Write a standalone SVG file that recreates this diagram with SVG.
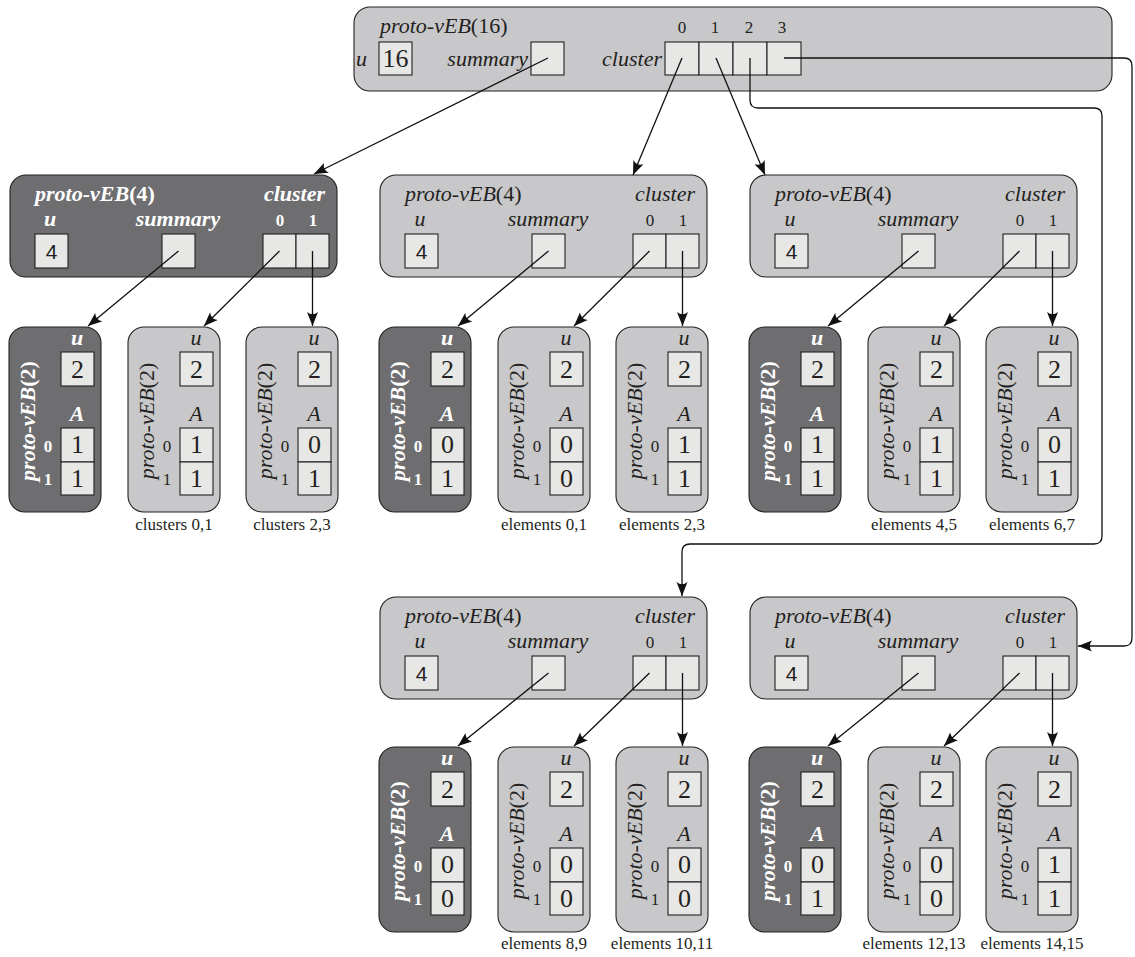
<svg xmlns="http://www.w3.org/2000/svg" width="1135" height="957" viewBox="0 0 1135 957" font-family="'Liberation Serif', 'Times New Roman', Times, 'DejaVu Serif', serif">
<defs>
<marker id="ah" markerUnits="userSpaceOnUse" markerWidth="16" markerHeight="12" refX="14" refY="6" orient="auto">
<path d="M0,0.5 L14,6 L0,11.5 Q4.5,6 0,0.5 Z" fill="#111"/>
</marker>
</defs>
<style>
text{font-family:'Liberation Serif','Times New Roman',Times,'DejaVu Serif',serif;fill:#231f20}
.nd{fill:#c8c8ca;stroke:#231f20;stroke-width:1.1}
.d .nd{fill:#6e6e71}
.bx{fill:#e7e7e6;stroke:#231f20;stroke-width:1.1}
.it{font-style:italic}
.tl,.lb,.tt{font-size:22px}
.lb,.ix,.v,.cap,.tt,.sv{text-anchor:middle}
.ix{font-size:17px}
.v{font-size:26px}
text.sv{font-family:'Liberation Sans',Arial,sans-serif;font-size:21px}
.cap{font-size:17px}
.d .tl,.d .lb,.d .ix,.d .tt{fill:#fff;font-weight:bold}
.cn{fill:none;stroke:#111;stroke-width:1.3;marker-end:url(#ah)}
</style>

<!-- top node -->
<g id="root">
<rect class="nd" x="354" y="7" width="758" height="84" rx="16"/>
<text class="tl" x="380" y="33"><tspan class="it">proto-vEB</tspan>(16)</text>
<text class="tl it" x="367" y="66" text-anchor="end">u</text>
<rect class="bx" x="379" y="42" width="33" height="33"/>
<text class="v" x="395.5" y="67">16</text>
<text class="tl it" x="528" y="66" text-anchor="end">summary</text>
<rect class="bx" x="531" y="42" width="33" height="33"/>
<text class="tl it" x="662" y="66" text-anchor="end">cluster</text>
<rect class="bx" x="665" y="42" width="34" height="33"/>
<rect class="bx" x="699" y="42" width="34" height="33"/>
<rect class="bx" x="733" y="42" width="34" height="33"/>
<rect class="bx" x="767" y="42" width="34" height="33"/>
<text class="ix" x="682" y="33">0</text>
<text class="ix" x="715" y="33">1</text>
<text class="ix" x="749" y="33">2</text>
<text class="ix" x="782" y="33">3</text>
</g>

<!-- proto-vEB(4) nodes -->
<g id="p4-summary" class="d" transform="translate(10,175)">
<rect class="nd" width="327" height="102" rx="16"/>
<text class="tl" x="25" y="26"><tspan class="it">proto-vEB</tspan>(4)</text>
<text class="tl it" x="315" y="26" text-anchor="end">cluster</text>
<text class="lb it" x="40" y="51">u</text>
<text class="lb it" x="168" y="51">summary</text>
<text class="ix" x="270" y="51">0</text>
<text class="ix" x="303" y="51">1</text>
<rect class="bx" x="25" y="59" width="33" height="34"/>
<text class="sv" x="41.5" y="84">4</text>
<rect class="bx" x="152" y="59" width="33" height="34"/>
<rect class="bx" x="253" y="59" width="33" height="34"/>
<rect class="bx" x="286" y="59" width="33" height="34"/>
</g>
<g id="p4-c0" transform="translate(380,175)">
<rect class="nd" width="327" height="102" rx="16"/>
<text class="tl" x="25" y="26"><tspan class="it">proto-vEB</tspan>(4)</text>
<text class="tl it" x="315" y="26" text-anchor="end">cluster</text>
<text class="lb it" x="40" y="51">u</text>
<text class="lb it" x="168" y="51">summary</text>
<text class="ix" x="270" y="51">0</text>
<text class="ix" x="303" y="51">1</text>
<rect class="bx" x="25" y="59" width="33" height="34"/>
<text class="sv" x="41.5" y="84">4</text>
<rect class="bx" x="152" y="59" width="33" height="34"/>
<rect class="bx" x="253" y="59" width="33" height="34"/>
<rect class="bx" x="286" y="59" width="33" height="34"/>
</g>
<g id="p4-c1" transform="translate(750,175)">
<rect class="nd" width="327" height="102" rx="16"/>
<text class="tl" x="25" y="26"><tspan class="it">proto-vEB</tspan>(4)</text>
<text class="tl it" x="315" y="26" text-anchor="end">cluster</text>
<text class="lb it" x="40" y="51">u</text>
<text class="lb it" x="168" y="51">summary</text>
<text class="ix" x="270" y="51">0</text>
<text class="ix" x="303" y="51">1</text>
<rect class="bx" x="25" y="59" width="33" height="34"/>
<text class="sv" x="41.5" y="84">4</text>
<rect class="bx" x="152" y="59" width="33" height="34"/>
<rect class="bx" x="253" y="59" width="33" height="34"/>
<rect class="bx" x="286" y="59" width="33" height="34"/>
</g>
<g id="p4-c2" transform="translate(380,597)">
<rect class="nd" width="327" height="102" rx="16"/>
<text class="tl" x="25" y="26"><tspan class="it">proto-vEB</tspan>(4)</text>
<text class="tl it" x="315" y="26" text-anchor="end">cluster</text>
<text class="lb it" x="40" y="51">u</text>
<text class="lb it" x="168" y="51">summary</text>
<text class="ix" x="270" y="51">0</text>
<text class="ix" x="303" y="51">1</text>
<rect class="bx" x="25" y="59" width="33" height="34"/>
<text class="sv" x="41.5" y="84">4</text>
<rect class="bx" x="152" y="59" width="33" height="34"/>
<rect class="bx" x="253" y="59" width="33" height="34"/>
<rect class="bx" x="286" y="59" width="33" height="34"/>
</g>
<g id="p4-c3" transform="translate(750,597)">
<rect class="nd" width="327" height="102" rx="16"/>
<text class="tl" x="25" y="26"><tspan class="it">proto-vEB</tspan>(4)</text>
<text class="tl it" x="315" y="26" text-anchor="end">cluster</text>
<text class="lb it" x="40" y="51">u</text>
<text class="lb it" x="168" y="51">summary</text>
<text class="ix" x="270" y="51">0</text>
<text class="ix" x="303" y="51">1</text>
<rect class="bx" x="25" y="59" width="33" height="34"/>
<text class="sv" x="41.5" y="84">4</text>
<rect class="bx" x="152" y="59" width="33" height="34"/>
<rect class="bx" x="253" y="59" width="33" height="34"/>
<rect class="bx" x="286" y="59" width="33" height="34"/>
</g>

<!-- proto-vEB(2) nodes, group A -->
<g id="a-s" class="d" transform="translate(9,327)">
<rect class="nd" width="92" height="185" rx="16"/>
<text class="tt" transform="translate(26,94) rotate(-90)"><tspan class="it">proto-vEB</tspan>(2)</text>
<text class="lb it" x="68" y="18">u</text>
<rect class="bx" x="52" y="25" width="33" height="34"/><text class="v" x="68.5" y="51">2</text>
<text class="lb it" x="68" y="94">A</text>
<rect class="bx" x="52" y="101" width="33" height="34"/><rect class="bx" x="52" y="135" width="33" height="33"/>
<text class="v" x="68.5" y="126">1</text><text class="v" x="68.5" y="160">1</text>
<text class="ix" x="39" y="125">0</text><text class="ix" x="39" y="158">1</text>
</g>
<g id="a-0" transform="translate(128,327)">
<rect class="nd" width="92" height="185" rx="16"/>
<text class="tt" transform="translate(26,94) rotate(-90)"><tspan class="it">proto-vEB</tspan>(2)</text>
<text class="lb it" x="68" y="18">u</text>
<rect class="bx" x="52" y="25" width="33" height="34"/><text class="v" x="68.5" y="51">2</text>
<text class="lb it" x="68" y="94">A</text>
<rect class="bx" x="52" y="101" width="33" height="34"/><rect class="bx" x="52" y="135" width="33" height="33"/>
<text class="v" x="68.5" y="126">1</text><text class="v" x="68.5" y="160">1</text>
<text class="ix" x="39" y="125">0</text><text class="ix" x="39" y="158">1</text>
<text class="cap" x="46" y="203">clusters 0,1</text>
</g>
<g id="a-1" transform="translate(246,327)">
<rect class="nd" width="92" height="185" rx="16"/>
<text class="tt" transform="translate(26,94) rotate(-90)"><tspan class="it">proto-vEB</tspan>(2)</text>
<text class="lb it" x="68" y="18">u</text>
<rect class="bx" x="52" y="25" width="33" height="34"/><text class="v" x="68.5" y="51">2</text>
<text class="lb it" x="68" y="94">A</text>
<rect class="bx" x="52" y="101" width="33" height="34"/><rect class="bx" x="52" y="135" width="33" height="33"/>
<text class="v" x="68.5" y="126">0</text><text class="v" x="68.5" y="160">1</text>
<text class="ix" x="39" y="125">0</text><text class="ix" x="39" y="158">1</text>
<text class="cap" x="46" y="203">clusters 2,3</text>
</g>

<!-- group B -->
<g id="b-s" class="d" transform="translate(379,327)">
<rect class="nd" width="92" height="185" rx="16"/>
<text class="tt" transform="translate(26,94) rotate(-90)"><tspan class="it">proto-vEB</tspan>(2)</text>
<text class="lb it" x="68" y="18">u</text>
<rect class="bx" x="52" y="25" width="33" height="34"/><text class="v" x="68.5" y="51">2</text>
<text class="lb it" x="68" y="94">A</text>
<rect class="bx" x="52" y="101" width="33" height="34"/><rect class="bx" x="52" y="135" width="33" height="33"/>
<text class="v" x="68.5" y="126">0</text><text class="v" x="68.5" y="160">1</text>
<text class="ix" x="39" y="125">0</text><text class="ix" x="39" y="158">1</text>
</g>
<g id="b-0" transform="translate(498,327)">
<rect class="nd" width="92" height="185" rx="16"/>
<text class="tt" transform="translate(26,94) rotate(-90)"><tspan class="it">proto-vEB</tspan>(2)</text>
<text class="lb it" x="68" y="18">u</text>
<rect class="bx" x="52" y="25" width="33" height="34"/><text class="v" x="68.5" y="51">2</text>
<text class="lb it" x="68" y="94">A</text>
<rect class="bx" x="52" y="101" width="33" height="34"/><rect class="bx" x="52" y="135" width="33" height="33"/>
<text class="v" x="68.5" y="126">0</text><text class="v" x="68.5" y="160">0</text>
<text class="ix" x="39" y="125">0</text><text class="ix" x="39" y="158">1</text>
<text class="cap" x="46" y="203">elements 0,1</text>
</g>
<g id="b-1" transform="translate(616,327)">
<rect class="nd" width="92" height="185" rx="16"/>
<text class="tt" transform="translate(26,94) rotate(-90)"><tspan class="it">proto-vEB</tspan>(2)</text>
<text class="lb it" x="68" y="18">u</text>
<rect class="bx" x="52" y="25" width="33" height="34"/><text class="v" x="68.5" y="51">2</text>
<text class="lb it" x="68" y="94">A</text>
<rect class="bx" x="52" y="101" width="33" height="34"/><rect class="bx" x="52" y="135" width="33" height="33"/>
<text class="v" x="68.5" y="126">1</text><text class="v" x="68.5" y="160">1</text>
<text class="ix" x="39" y="125">0</text><text class="ix" x="39" y="158">1</text>
<text class="cap" x="46" y="203">elements 2,3</text>
</g>

<!-- group C -->
<g id="c-s" class="d" transform="translate(749,327)">
<rect class="nd" width="92" height="185" rx="16"/>
<text class="tt" transform="translate(26,94) rotate(-90)"><tspan class="it">proto-vEB</tspan>(2)</text>
<text class="lb it" x="68" y="18">u</text>
<rect class="bx" x="52" y="25" width="33" height="34"/><text class="v" x="68.5" y="51">2</text>
<text class="lb it" x="68" y="94">A</text>
<rect class="bx" x="52" y="101" width="33" height="34"/><rect class="bx" x="52" y="135" width="33" height="33"/>
<text class="v" x="68.5" y="126">1</text><text class="v" x="68.5" y="160">1</text>
<text class="ix" x="39" y="125">0</text><text class="ix" x="39" y="158">1</text>
</g>
<g id="c-0" transform="translate(868,327)">
<rect class="nd" width="92" height="185" rx="16"/>
<text class="tt" transform="translate(26,94) rotate(-90)"><tspan class="it">proto-vEB</tspan>(2)</text>
<text class="lb it" x="68" y="18">u</text>
<rect class="bx" x="52" y="25" width="33" height="34"/><text class="v" x="68.5" y="51">2</text>
<text class="lb it" x="68" y="94">A</text>
<rect class="bx" x="52" y="101" width="33" height="34"/><rect class="bx" x="52" y="135" width="33" height="33"/>
<text class="v" x="68.5" y="126">1</text><text class="v" x="68.5" y="160">1</text>
<text class="ix" x="39" y="125">0</text><text class="ix" x="39" y="158">1</text>
<text class="cap" x="46" y="203">elements 4,5</text>
</g>
<g id="c-1" transform="translate(986,327)">
<rect class="nd" width="92" height="185" rx="16"/>
<text class="tt" transform="translate(26,94) rotate(-90)"><tspan class="it">proto-vEB</tspan>(2)</text>
<text class="lb it" x="68" y="18">u</text>
<rect class="bx" x="52" y="25" width="33" height="34"/><text class="v" x="68.5" y="51">2</text>
<text class="lb it" x="68" y="94">A</text>
<rect class="bx" x="52" y="101" width="33" height="34"/><rect class="bx" x="52" y="135" width="33" height="33"/>
<text class="v" x="68.5" y="126">0</text><text class="v" x="68.5" y="160">1</text>
<text class="ix" x="39" y="125">0</text><text class="ix" x="39" y="158">1</text>
<text class="cap" x="46" y="203">elements 6,7</text>
</g>

<!-- group D -->
<g id="d-s" class="d" transform="translate(379,747)">
<rect class="nd" width="92" height="185" rx="16"/>
<text class="tt" transform="translate(26,94) rotate(-90)"><tspan class="it">proto-vEB</tspan>(2)</text>
<text class="lb it" x="68" y="18">u</text>
<rect class="bx" x="52" y="25" width="33" height="34"/><text class="v" x="68.5" y="51">2</text>
<text class="lb it" x="68" y="94">A</text>
<rect class="bx" x="52" y="101" width="33" height="34"/><rect class="bx" x="52" y="135" width="33" height="33"/>
<text class="v" x="68.5" y="126">0</text><text class="v" x="68.5" y="160">0</text>
<text class="ix" x="39" y="125">0</text><text class="ix" x="39" y="158">1</text>
</g>
<g id="d-0" transform="translate(498,747)">
<rect class="nd" width="92" height="185" rx="16"/>
<text class="tt" transform="translate(26,94) rotate(-90)"><tspan class="it">proto-vEB</tspan>(2)</text>
<text class="lb it" x="68" y="18">u</text>
<rect class="bx" x="52" y="25" width="33" height="34"/><text class="v" x="68.5" y="51">2</text>
<text class="lb it" x="68" y="94">A</text>
<rect class="bx" x="52" y="101" width="33" height="34"/><rect class="bx" x="52" y="135" width="33" height="33"/>
<text class="v" x="68.5" y="126">0</text><text class="v" x="68.5" y="160">0</text>
<text class="ix" x="39" y="125">0</text><text class="ix" x="39" y="158">1</text>
<text class="cap" x="46" y="202">elements 8,9</text>
</g>
<g id="d-1" transform="translate(616,747)">
<rect class="nd" width="92" height="185" rx="16"/>
<text class="tt" transform="translate(26,94) rotate(-90)"><tspan class="it">proto-vEB</tspan>(2)</text>
<text class="lb it" x="68" y="18">u</text>
<rect class="bx" x="52" y="25" width="33" height="34"/><text class="v" x="68.5" y="51">2</text>
<text class="lb it" x="68" y="94">A</text>
<rect class="bx" x="52" y="101" width="33" height="34"/><rect class="bx" x="52" y="135" width="33" height="33"/>
<text class="v" x="68.5" y="126">0</text><text class="v" x="68.5" y="160">0</text>
<text class="ix" x="39" y="125">0</text><text class="ix" x="39" y="158">1</text>
<text class="cap" x="46" y="202">elements 10,11</text>
</g>

<!-- group E -->
<g id="e-s" class="d" transform="translate(749,747)">
<rect class="nd" width="92" height="185" rx="16"/>
<text class="tt" transform="translate(26,94) rotate(-90)"><tspan class="it">proto-vEB</tspan>(2)</text>
<text class="lb it" x="68" y="18">u</text>
<rect class="bx" x="52" y="25" width="33" height="34"/><text class="v" x="68.5" y="51">2</text>
<text class="lb it" x="68" y="94">A</text>
<rect class="bx" x="52" y="101" width="33" height="34"/><rect class="bx" x="52" y="135" width="33" height="33"/>
<text class="v" x="68.5" y="126">0</text><text class="v" x="68.5" y="160">1</text>
<text class="ix" x="39" y="125">0</text><text class="ix" x="39" y="158">1</text>
</g>
<g id="e-0" transform="translate(868,747)">
<rect class="nd" width="92" height="185" rx="16"/>
<text class="tt" transform="translate(26,94) rotate(-90)"><tspan class="it">proto-vEB</tspan>(2)</text>
<text class="lb it" x="68" y="18">u</text>
<rect class="bx" x="52" y="25" width="33" height="34"/><text class="v" x="68.5" y="51">2</text>
<text class="lb it" x="68" y="94">A</text>
<rect class="bx" x="52" y="101" width="33" height="34"/><rect class="bx" x="52" y="135" width="33" height="33"/>
<text class="v" x="68.5" y="126">0</text><text class="v" x="68.5" y="160">0</text>
<text class="ix" x="39" y="125">0</text><text class="ix" x="39" y="158">1</text>
<text class="cap" x="46" y="202">elements 12,13</text>
</g>
<g id="e-1" transform="translate(986,747)">
<rect class="nd" width="92" height="185" rx="16"/>
<text class="tt" transform="translate(26,94) rotate(-90)"><tspan class="it">proto-vEB</tspan>(2)</text>
<text class="lb it" x="68" y="18">u</text>
<rect class="bx" x="52" y="25" width="33" height="34"/><text class="v" x="68.5" y="51">2</text>
<text class="lb it" x="68" y="94">A</text>
<rect class="bx" x="52" y="101" width="33" height="34"/><rect class="bx" x="52" y="135" width="33" height="33"/>
<text class="v" x="68.5" y="126">1</text><text class="v" x="68.5" y="160">1</text>
<text class="ix" x="39" y="125">0</text><text class="ix" x="39" y="158">1</text>
<text class="cap" x="46" y="202">elements 14,15</text>
</g>

<!-- connectors -->
<g id="connectors">
<path class="cn" d="M548,58 L314,174"/>
<path class="cn" d="M682,58 L633,175"/>
<path class="cn" d="M716,58 L765,175"/>
<path class="cn" d="M750,58 V100 Q750,108 758,108 H1094 Q1102,108 1102,116 V536 Q1102,544 1094,544 H690 Q682,544 682,552 V596"/>
<path class="cn" d="M784,58 H1124 Q1132,58 1132,66 V638 Q1132,646 1124,646 H1078"/>

<path class="cn" d="M178.5,251 L88,326"/>
<path class="cn" d="M279.5,251 L204,326"/>
<path class="cn" d="M312.5,251 V326"/>

<path class="cn" d="M548.5,251 L458,326"/>
<path class="cn" d="M649.5,251 L574,326"/>
<path class="cn" d="M682.5,251 V326"/>

<path class="cn" d="M918.5,251 L828,326"/>
<path class="cn" d="M1019.5,251 L944,326"/>
<path class="cn" d="M1052.5,251 V326"/>

<path class="cn" d="M548.5,673 L458,746"/>
<path class="cn" d="M649.5,673 L574,746"/>
<path class="cn" d="M682.5,673 V746"/>

<path class="cn" d="M918.5,673 L828,746"/>
<path class="cn" d="M1019.5,673 L944,746"/>
<path class="cn" d="M1052.5,673 V746"/>
</g>
</svg>
